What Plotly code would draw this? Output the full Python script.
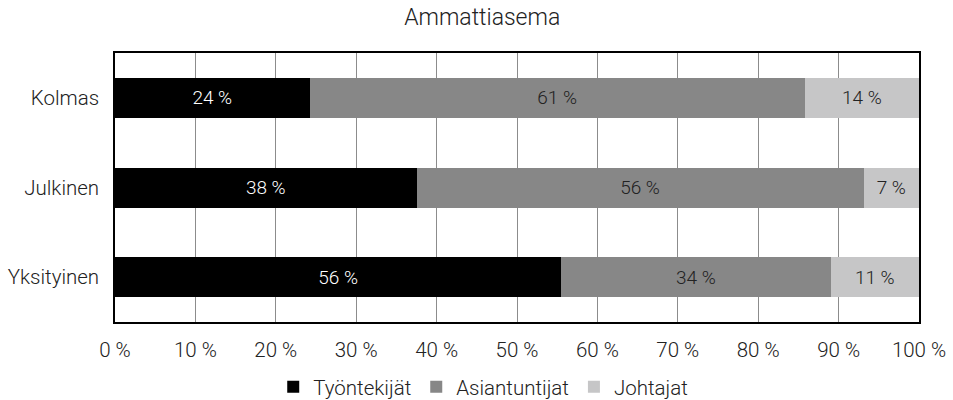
import plotly.graph_objects as go

categories = ["Yksityinen", "Julkinen", "Kolmas"]
series_names = ["Työntekijät", "Asiantuntijat", "Johtajat"]
tyontekijat = [55.5, 37.5, 24.2]
asiantuntijat = [33.5, 55.6, 61.6]
johtajat = [11.0, 6.9, 14.2]
labels_tyontekijat = ["56 %", "38 %", "24 %"]
labels_asiantuntijat = ["34 %", "56 %", "61 %"]
labels_johtajat = ["11 %", "7 %", "14 %"]
tick_values = [0, 10, 20, 30, 40, 50, 60, 70, 80, 90, 100]
tick_labels = ["0 %", "10 %", "20 %", "30 %", "40 %", "50 %", "60 %", "70 %", "80 %", "90 %", "100 %"]

colors = ["#000000", "#878787", "#c6c6c7"]
text_colors = ["#ffffff", "#222222", "#222222"]
values = [tyontekijat, asiantuntijat, johtajat]
labels = [labels_tyontekijat, labels_asiantuntijat, labels_johtajat]

FONT = "Roboto"
W = 300

fig = go.Figure()
for name, vals, labs, c, tc in zip(series_names, values, labels, colors, text_colors):
    fig.add_trace(go.Bar(
        y=categories, x=vals, name=name, orientation="h",
        marker=dict(color=c, line=dict(width=0)),
        text=labs, textposition="inside", insidetextanchor="middle",
        textfont=dict(color=tc, size=19, family=FONT, weight=W),
        textangle=0, hoverinfo="skip",
    ))

fig.update_layout(
    barmode="stack",
    bargap=0.554,
    width=953, height=400,
    margin=dict(l=115, r=34, t=53, b=78, autoexpand=False),
    paper_bgcolor="white", plot_bgcolor="white",
    font=dict(family=FONT, size=20.5, color="#222222", weight=W),
    title=dict(text="Ammattiasema", x=0.506, xanchor="center", y=1 - 17 / 400, yanchor="middle",
               font=dict(size=23, family=FONT, color="#222222", weight=W)),
    legend=dict(orientation="h", x=0.458, xanchor="center", y=-(387 - 322) / 269, yanchor="middle",
                font=dict(size=20.5, family=FONT, color="#222222", weight=W), traceorder="normal",
                itemwidth=30, tracegroupgap=0),
    uniformtext=dict(minsize=10, mode="show"),
)
fig.update_xaxes(range=[0, 100], tickvals=tick_values, ticktext=tick_labels,
                 showgrid=True, gridcolor="#8c8c8c", gridwidth=1,
                 showline=True, linecolor="black", linewidth=1.5, mirror=True,
                 ticks="", zeroline=False, ticklabelstandoff=9, automargin=False, fixedrange=True)
fig.update_yaxes(showgrid=False, showline=True, linecolor="black", linewidth=1.5, mirror=True,
                 ticks="", ticklabelstandoff=10, automargin=False)

fig.write_html("out.html", config={"displayModeBar": False},
               post_script="document.body.style.margin='0';document.body.style.overflow='hidden';")
